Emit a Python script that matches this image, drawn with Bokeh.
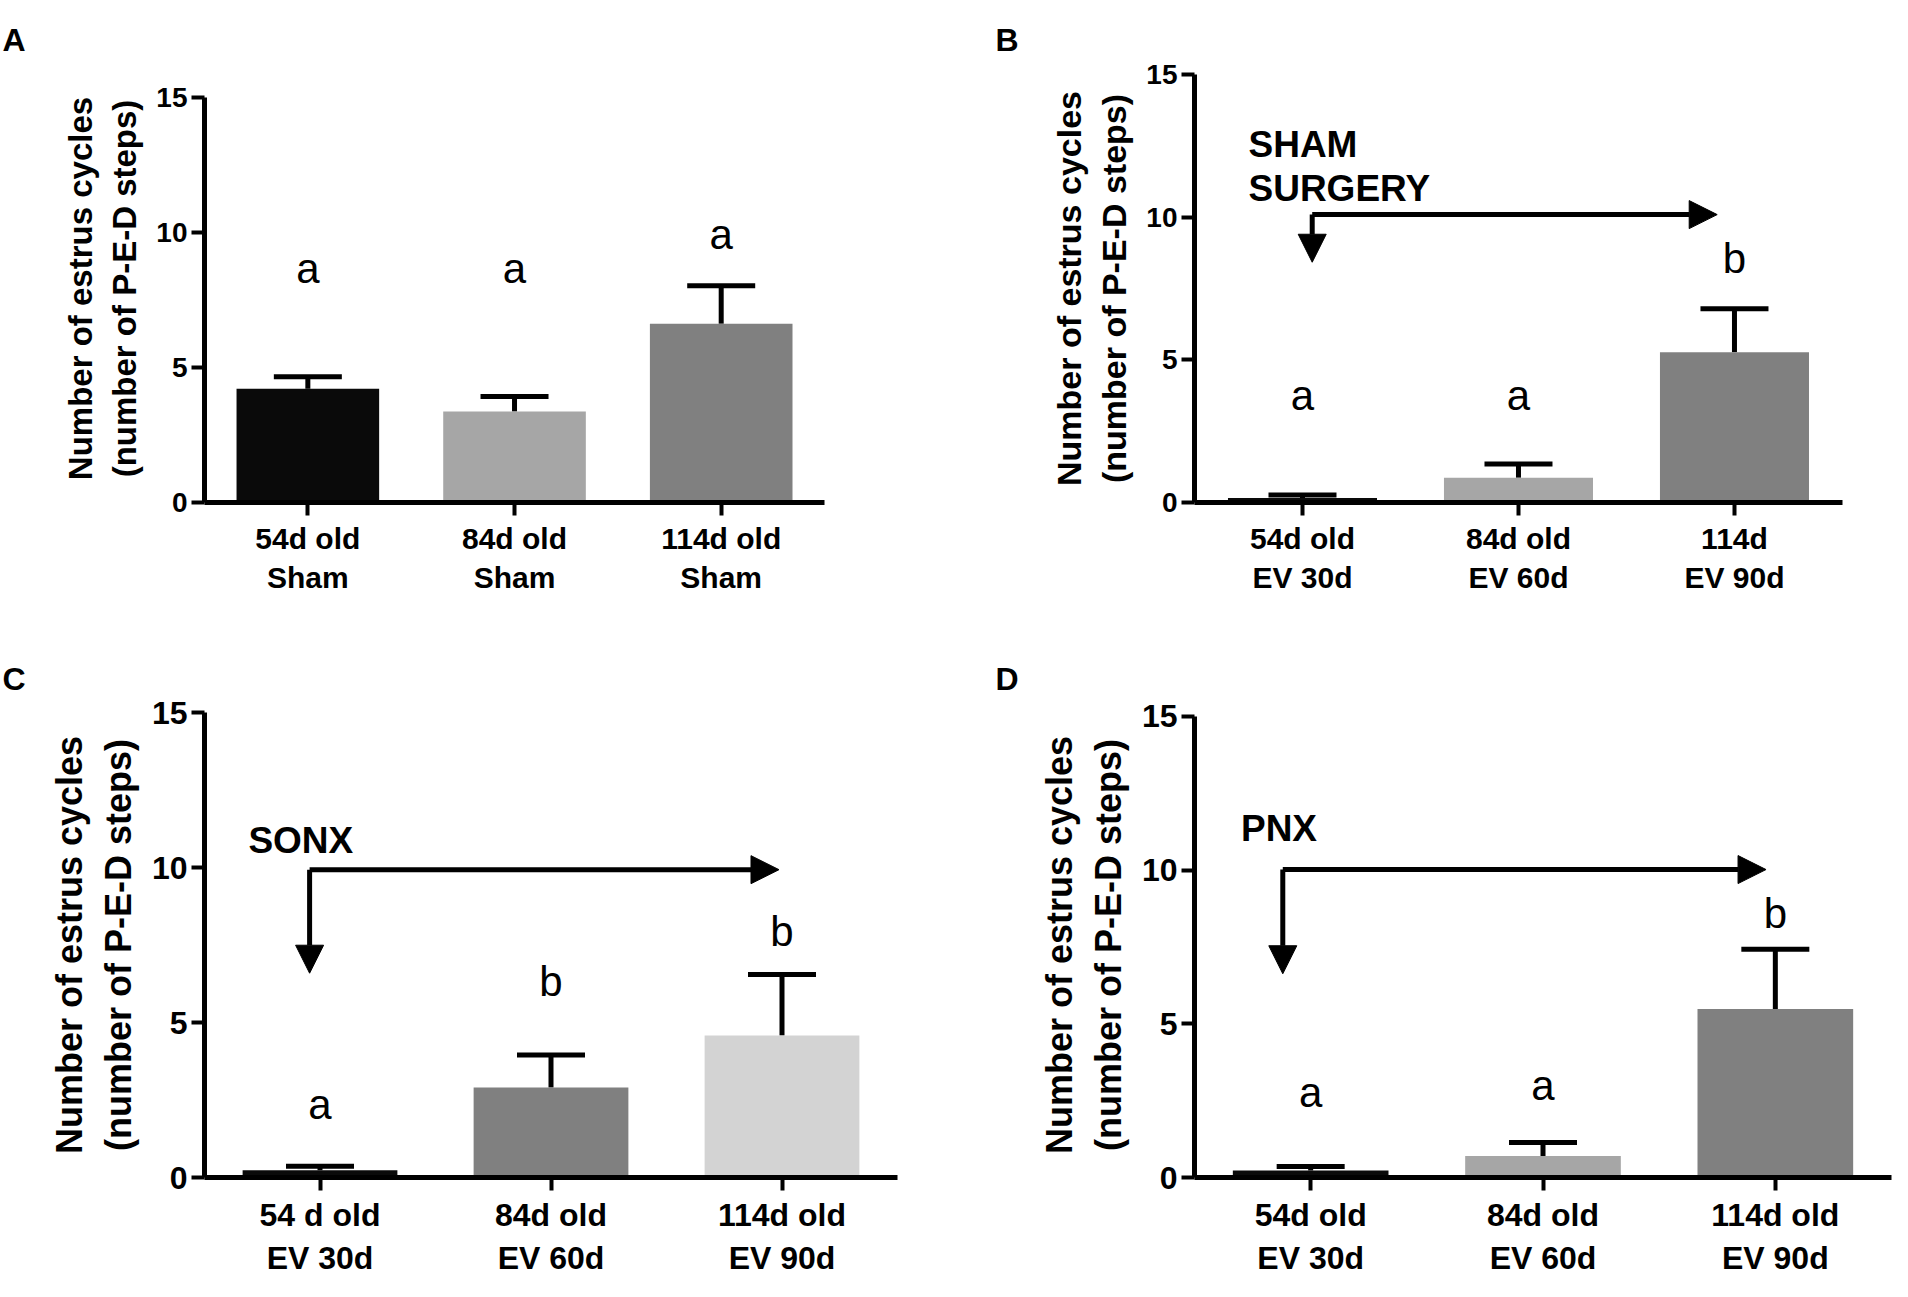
from bokeh.plotting import figure
from bokeh.models import (FixedTicker, Whisker, TeeHead, Arrow, NormalHead, Label,
                          ColumnDataSource, Range1d)
from bokeh.layouts import column, row
from bokeh.core.properties import value
from bokeh.embed import file_html
from bokeh.resources import INLINE

FONT = "Liberation Sans"

# ---------------- data ----------------
positions = [0, 1, 2]
y_ticks = [0, 5, 10, 15]
y_title = "Number of estrus cycles\n(number of P-E-D steps)"

a_labels = ["54d old\nSham", "84d old\nSham", "114d old\nSham"]
a_means = [4.21, 3.37, 6.62]
a_sem = [0.45, 0.56, 1.41]
a_colors = ["#0a0a0a", "#a6a6a6", "#808080"]
a_letters = ["a", "a", "a"]
a_letter_y = [8.68, 8.68, 9.93]

b_labels = ["54d old\nEV 30d", "84d old\nEV 60d", "114d\nEV 90d"]
b_means = [0.16, 0.87, 5.27]
b_sem = [0.10, 0.48, 1.52]
b_colors = ["#0a0a0a", "#a6a6a6", "#808080"]
b_letters = ["a", "a", "b"]
b_letter_y = [3.75, 3.75, 8.56]

c_labels = ["54 d old\nEV 30d", "84d old\nEV 60d", "114d old\nEV 90d"]
c_means = [0.23, 2.90, 4.58]
c_sem = [0.13, 1.05, 1.97]
c_colors = ["#0a0a0a", "#808080", "#d3d3d3"]
c_letters = ["a", "b", "b"]
c_letter_y = [2.35, 6.32, 7.93]

d_labels = ["54d old\nEV 30d", "84d old\nEV 60d", "114d old\nEV 90d"]
d_means = [0.23, 0.70, 5.48]
d_sem = [0.13, 0.44, 1.95]
d_colors = ["#0a0a0a", "#a6a6a6", "#808080"]
d_letters = ["a", "a", "b"]
d_letter_y = [2.77, 3.0, 8.6]


def make_panel(letter, labels, means, sem, colors, letters, letter_y,
               width, height, borders, x_end, y_end, bar_w, ylab_size, tick_size, cat_size,
               note=None, arrow=None):
    left, right, top, bottom = borders
    p = figure(width=width, height=height, output_backend="svg", toolbar_location=None,
               x_range=Range1d(-0.5, x_end), y_range=Range1d(0, y_end),
               min_border_left=left, min_border_right=right,
               min_border_top=top, min_border_bottom=bottom,
               background_fill_color="white", border_fill_color="white")
    p.outline_line_color = None
    p.xgrid.visible = False
    p.ygrid.visible = False

    # panel letter as the plot title, pushed to the panel's top-left corner
    p.title.text = letter[0]
    p.title.align = "left"
    p.title.offset = letter[1]
    p.title.standoff = letter[2]
    p.title.text_font = FONT
    p.title.text_font_style = "bold"
    p.title.text_font_size = "32px"
    p.title.text_color = "black"

    upper = [m + s for m, s in zip(means, sem)]
    src = ColumnDataSource(dict(x=positions, top=means, upper=upper, color=colors,
                                letter=letters, ly=letter_y))
    p.vbar(x="x", top="top", width=bar_w, fill_color="color", line_color=None, source=src)
    p.add_layout(Whisker(source=src, base="x", lower="top", upper="upper",
                         dimension="height", line_width=5, line_color="black",
                         upper_head=TeeHead(size=68, line_width=5, line_color="black"),
                         lower_head=None))
    p.text(x="x", y="ly", text="letter", source=src, text_align="center",
           text_baseline="middle", text_font=value(FONT), text_font_size="42px",
           text_color="black")

    for ax in (p.xaxis, p.yaxis):
        ax.axis_line_width = 5
        ax.axis_line_color = "black"
        ax.major_tick_line_width = 4
        ax.major_tick_line_color = "black"
        ax.major_tick_out = 13
        ax.major_tick_in = 0
        ax.minor_tick_line_color = None
        ax.major_label_text_font = FONT
        ax.major_label_text_font_style = "bold"
        ax.major_label_text_color = "black"

    p.yaxis.bounds = (0, 15)
    p.yaxis.ticker = FixedTicker(ticks=y_ticks)
    p.yaxis.major_label_text_font_size = tick_size
    p.yaxis.major_label_standoff = 4
    p.yaxis.axis_label = y_title
    p.yaxis.axis_label_text_font = FONT
    p.yaxis.axis_label_text_font_style = "bold"
    p.yaxis.axis_label_text_font_size = ylab_size
    p.yaxis.axis_label_text_color = "black"
    p.yaxis.axis_label_standoff = 10

    p.xaxis.bounds = (-0.5, 2.5)
    p.xaxis.ticker = FixedTicker(ticks=positions)
    p.xaxis.major_label_overrides = {i: lab for i, lab in zip(positions, labels)}
    p.xaxis.major_label_text_font_size = cat_size
    p.xaxis.major_label_standoff = 6

    if note is not None:
        for txt, nx, ny in note:
            p.add_layout(Label(x=nx, y=ny, text=txt, text_font=FONT, text_font_style="bold",
                               text_font_size="37px", text_baseline="alphabetic",
                               text_align="left", text_color="black"))
    if arrow is not None:
        ax0, ay, ax1, ay_tip = arrow
        p.add_layout(Arrow(x_start=ax0, y_start=ay, x_end=ax1, y_end=ay,
                           line_width=5, line_color="black",
                           end=NormalHead(size=28, fill_color="black", line_color="black")))
        p.add_layout(Arrow(x_start=ax0, y_start=ay, x_end=ax0, y_end=ay_tip,
                           line_width=5, line_color="black",
                           end=NormalHead(size=28, fill_color="black", line_color="black")))
    return p


# borders shared by row / column so that frame alignment does not matter
pA = make_panel(("A", -202, 34), a_labels, a_means, a_sem, a_colors, a_letters, a_letter_y,
                946, 640, (204, 49, 74, 138), 2.853, 15.852, 0.69, "33px", "28px", "30px")
pB = make_panel(("B", -199, 34), b_labels, b_means, b_sem, b_colors, b_letters, b_letter_y,
                946, 640, (248, 1, 74, 138), 2.727, 15.0, 0.69, "34px", "28px", "30px",
                note=[("SHAM", -0.25, 12.53), ("SURGERY", -0.25, 11.02)],
                arrow=(0.045, 10.09, 1.92, 8.42))
pC = make_panel(("C", -202, 32), c_labels, c_means, c_sem, c_colors, c_letters, c_letter_y,
                946, 641, (204, 49, 72, 104), 2.5, 15.0, 0.67, "36px", "32px", "32px",
                note=[("SONX", -0.31, 10.88)],
                arrow=(-0.045, 9.93, 1.987, 6.59))
pD = make_panel(("D", -199, 32), d_labels, d_means, d_sem, d_colors, d_letters, d_letter_y,
                946, 641, (248, 1, 72, 104), 2.5, 15.13, 0.67, "36px", "32px", "32px",
                note=[("PNX", -0.3, 11.37)],
                arrow=(-0.12, 10.02, 1.96, 6.63))

layout = column(row(pA, pB), row(pC, pD))
open("out.html", "w").write(file_html(layout, INLINE))
